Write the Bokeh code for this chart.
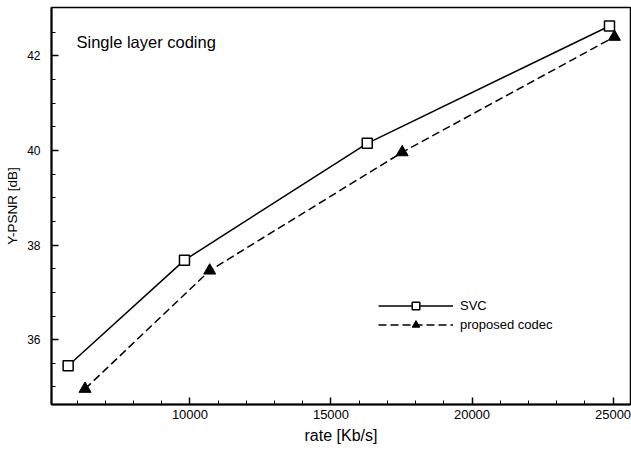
from bokeh.plotting import figure
from bokeh.models import Range1d, FixedTicker, Legend, LegendItem, Label
from bokeh.embed import file_html
from bokeh.resources import INLINE

# data
rate_svc = [5680, 9805, 16285, 24875]
psnr_svc = [35.45, 37.68, 40.15, 42.63]
rate_prop = [6280, 10700, 17525, 25050]
psnr_prop = [34.96, 37.46, 39.96, 42.40]
x_major = [10000, 15000, 20000, 25000]
x_minor = list(range(6000, 26000, 1000))
y_major = [36, 38, 40, 42]
y_minor = [35.0, 35.5, 36.0, 36.5, 37.0, 37.5, 38.0, 38.5, 39.0, 39.5, 40.0, 40.5, 41.0, 41.5, 42.0, 42.5]

FONT = "Liberation Sans"

p = figure(width=631, height=452, output_backend="svg", toolbar_location=None,
           x_range=Range1d(5090, 25620), y_range=Range1d(34.63, 43.02),
           min_border_left=51, min_border_right=1, min_border_top=7, min_border_bottom=48)
p.grid.visible = False
p.outline_line_color = "black"
p.outline_line_width = 1.5
p.background_fill_color = "white"
p.border_fill_color = "white"

p.xaxis.ticker = FixedTicker(ticks=x_major, minor_ticks=x_minor)
p.yaxis.ticker = FixedTicker(ticks=y_major, minor_ticks=y_minor)
for ax in (p.xaxis[0], p.yaxis[0]):
    ax.axis_line_width = 2
    ax.axis_line_color = "black"
    ax.major_tick_in = 7
    ax.major_tick_out = 0
    ax.minor_tick_in = 4
    ax.minor_tick_out = 0
    ax.major_tick_line_width = 1.5
    ax.minor_tick_line_width = 1
    ax.major_label_text_font = FONT
    ax.major_label_text_color = "black"
    ax.axis_label_text_font = FONT
    ax.axis_label_text_font_style = "normal"
    ax.axis_label_text_color = "black"

p.xaxis.axis_label = "rate [Kb/s]"
p.xaxis.major_label_text_font_size = "13px"
p.xaxis.axis_label_text_font_size = "16px"
p.xaxis.major_label_standoff = 5
p.xaxis.axis_label_standoff = 5
p.yaxis.axis_label = "Y-PSNR [dB]"
p.yaxis.major_label_text_font_size = "12px"
p.yaxis.axis_label_text_font_size = "13.5px"
p.yaxis.major_label_standoff = 11
p.yaxis.axis_label_standoff = 4

r1l = p.line(rate_svc, psnr_svc, line_color="black", line_width=1.5)
r1m = p.scatter(rate_svc, psnr_svc, marker="square", size=10, fill_color="white",
                line_color="black", line_width=1.5)
r2l = p.line(rate_prop, psnr_prop, line_color="black", line_width=1.5, line_dash="8 4")
r2m = p.scatter(rate_prop, psnr_prop, marker="triangle", size=12, fill_color="black",
                line_color="black", line_width=1)

legend = Legend(items=[LegendItem(label="SVC", renderers=[r1l, r1m]),
                       LegendItem(label="proposed codec", renderers=[r2l, r2m])],
                location=(327, 70), glyph_width=75, glyph_height=19, label_height=19,
                spacing=0, padding=0, margin=0, label_standoff=7,
                border_line_color=None, background_fill_alpha=0,
                label_text_font=FONT, label_text_font_size="13px", label_text_color="black")
p.add_layout(legend, "center")

p.add_layout(Label(x=5975, y=42.3, text="Single layer coding", text_font=FONT,
                   text_font_size="16.5px", text_color="black", text_baseline="middle"))

open("out.html", "w").write(file_html(p, INLINE))
